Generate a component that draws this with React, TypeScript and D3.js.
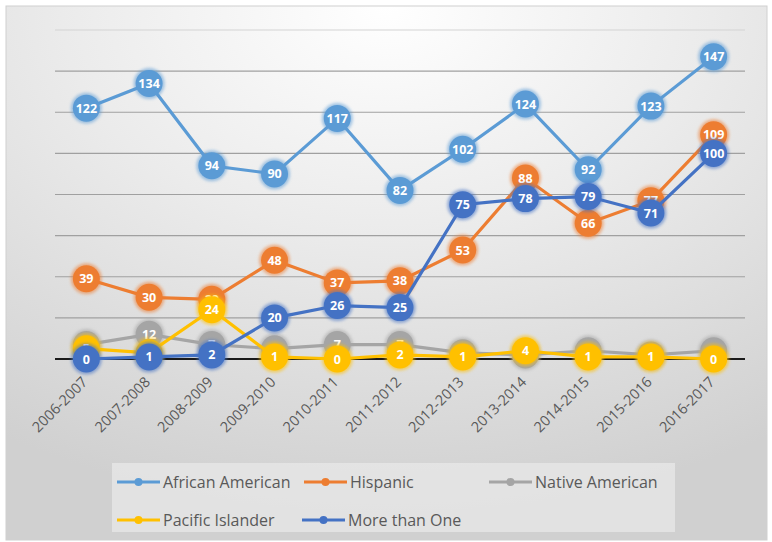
import React from "react";
import * as d3 from "d3";

const categories = ["2006-2007","2007-2008","2008-2009","2009-2010","2010-2011","2011-2012","2012-2013","2013-2014","2014-2015","2015-2016","2016-2017"];
const africanAmerican = [122,134,94,90,117,82,102,124,92,123,147];
const hispanic = [39,30,29,48,37,38,53,88,66,77,109];
const nativeAmerican = [7,12,7,5,7,7,3,2,4,2,4];
const pacificIslander = [5,3,24,1,0,2,1,4,1,1,0];
const moreThanOne = [0,1,2,20,26,25,75,78,79,71,100];
const yTicks = [0,20,40,60,80,100,120,140,160];

const seriesNames = ["African American","Hispanic","Native American","Pacific Islander","More than One"];
const seriesValues = [africanAmerican, hispanic, nativeAmerican, pacificIslander, moreThanOne];
const seriesColors = ["#5B9BD5","#ED7D31","#A5A5A5","#FFC000","#4472C4"];

const W = 772, H = 542;
const plot = { left: 55, right: 745, top: 30, bottom: 359 };

export default function App() {
  const x = d3.scaleBand().domain(categories).range([plot.left, plot.right]);
  const y = d3.scaleLinear().domain([0, 160]).range([plot.bottom, plot.top]);
  const cx = (c: string) => (x(c) as number) + x.bandwidth() / 2;
  const line = d3.line<number>().x((_, i) => cx(categories[i])).y(v => y(v));
  const font = "'Open Sans', 'Liberation Sans', sans-serif";

  const legendItems = [
    { i: 0, x: 117, y: 482 },
    { i: 1, x: 304, y: 482 },
    { i: 2, x: 489, y: 482 },
    { i: 3, x: 117, y: 520 },
    { i: 4, x: 302, y: 520 },
  ];

  return (
    <svg width={W} height={H} style={{ position: "absolute", left: 0, top: 0 }} fontFamily={font}>
      <defs>
        <radialGradient id="bg" cx="50%" cy="0%" r="95%" fx="50%" fy="0%">
          <stop offset="0%" stopColor="#ffffff" />
          <stop offset="45%" stopColor="#ebebeb" />
          <stop offset="100%" stopColor="#d0d0d0" />
        </radialGradient>
        <filter id="glow" x="-50%" y="-50%" width="200%" height="200%">
          <feGaussianBlur stdDeviation="1.6" />
        </filter>
      </defs>
      <rect x={0} y={0} width={W} height={H} fill="#ffffff" />
      <rect x={6} y={6} width={761} height={534} fill="url(#bg)" stroke="#d0d0d0" />
      {yTicks.slice(1).map(t => (
        <line key={t} x1={plot.left} x2={plot.right} y1={y(t)} y2={y(t)} stroke={t === 160 ? "#d4d4d4" : "#a0a0a0"} strokeWidth={1.2} />
      ))}
      <line x1={plot.left} x2={plot.right} y1={y(0)} y2={y(0)} stroke="#1a1a1a" strokeWidth={2.2} />
      {categories.map(c => (
        <text key={c} transform={`translate(${cx(c) + 2},${plot.bottom + 24}) rotate(-45)`} textAnchor="end" fontSize={14.5} fill="#595959">{c}</text>
      ))}
      {seriesValues.map((vals, si) => (
        <g key={seriesNames[si]}>
          <path d={line(vals) as string} fill="none" stroke={seriesColors[si]} strokeWidth={3.2} />
          {vals.map((v, i) => (
            <g key={i}>
              <circle cx={cx(categories[i])} cy={y(v)} r={15.5} fill={seriesColors[si]} opacity={0.55} filter="url(#glow)" />
              <circle cx={cx(categories[i])} cy={y(v)} r={13.5} fill={seriesColors[si]} />
              <text x={cx(categories[i])} y={y(v)} dy="0.36em" textAnchor="middle" fontSize={12.5} fontWeight="bold" fill="#ffffff">{v}</text>
            </g>
          ))}
        </g>
      ))}
      <rect x={112} y={463} width={563} height={69} fill="#e8e8e8" opacity={0.75} />
      {legendItems.map(it => (
        <g key={it.i}>
          <line x1={it.x} x2={it.x + 43} y1={it.y} y2={it.y} stroke={seriesColors[it.i]} strokeWidth={3} />
          <circle cx={it.x + 21.5} cy={it.y} r={4} fill={seriesColors[it.i]} />
          <text x={it.x + 46} y={it.y} dy="0.35em" fontSize={16} fill="#595959">{seriesNames[it.i]}</text>
        </g>
      ))}
    </svg>
  );
}
